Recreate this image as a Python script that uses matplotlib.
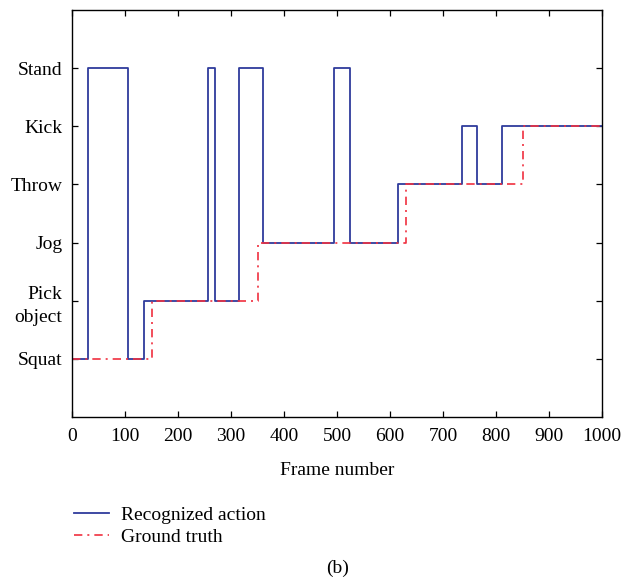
import matplotlib
matplotlib.use("Agg")
import matplotlib.pyplot as plt

plt.rcParams['font.family'] = ['Liberation Serif', 'DejaVu Serif']

actions = ["Squat", "Pick\nobject", "Jog", "Throw", "Kick", "Stand"]
level_of = {"Squat": 1, "Pick": 2, "Jog": 3, "Throw": 4, "Kick": 5, "Stand": 6}

rec_frames = [0, 30, 106, 135, 256, 270, 316, 360, 495, 525, 616, 736, 765, 811, 1000]
rec_actions = ["Squat", "Stand", "Squat", "Pick", "Stand", "Pick", "Stand", "Jog",
               "Stand", "Jog", "Throw", "Kick", "Throw", "Kick", "Kick"]

gt_frames = [0, 150, 350, 630, 850, 1000]
gt_actions = ["Squat", "Pick", "Jog", "Throw", "Kick", "Kick"]

x_ticks = list(range(0, 1001, 100))

FS = 14

fig = plt.figure(figsize=(6.25, 5.88), dpi=100)
ax = fig.add_axes([0.1152, 0.2908, 0.848, 0.6922])

rec_levels = [level_of[a] for a in rec_actions]
gt_levels = [level_of[a] for a in gt_actions]

ax.step(rec_frames, rec_levels, where='post', color='#2f3c9c', lw=1.3,
        label='Recognized action')
ax.step(gt_frames, gt_levels, where='post', color='#f03040', lw=1.2,
        linestyle=(0, (5, 3, 1.2, 3)), label='Ground truth')

ax.set_xlim(0, 1000)
ax.set_ylim(0, 7)
ax.set_xticks(x_ticks)
ax.set_xticklabels([str(t) for t in x_ticks], fontsize=FS)
ax.set_yticks(range(1, 7))
ax.set_yticklabels(actions, fontsize=FS, linespacing=1.45)
ax.tick_params(direction='in', top=True, right=True, length=4, width=0.9, pad=7)
ax.tick_params(axis='x', pad=8)
for s in ax.spines.values():
    s.set_linewidth(1.0)
ax.set_xlabel("Frame number", fontsize=FS, labelpad=12)

leg = ax.legend(loc='upper left', bbox_to_anchor=(-0.01, -0.2), frameon=False,
                fontsize=FS, handlelength=1.8, handletextpad=0.6,
                labelspacing=0.25, borderaxespad=0)

fig.text(0.5405, 1 - 568 / 588, "(b)", ha='center', va='center', fontsize=FS)

fig.savefig("out.png", dpi=100)
